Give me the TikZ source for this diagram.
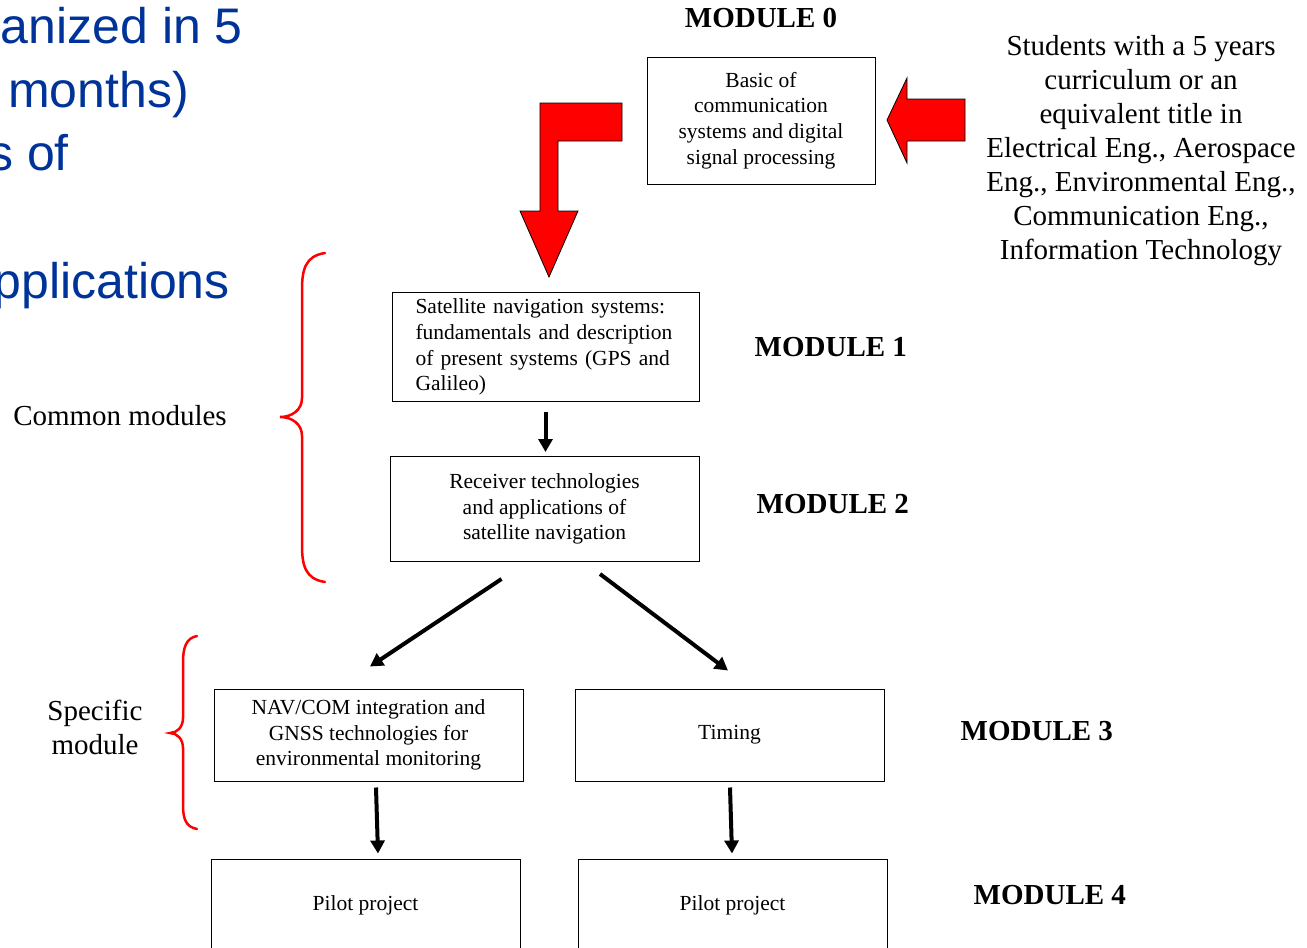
\documentclass[tikz,border=0pt]{standalone}
\usepackage{fontspec}
\setmainfont{Liberation Serif}
\newfontfamily\slidefont{Liberation Sans}
\usepackage{tikz}
\usetikzlibrary{positioning,calc,arrows.meta}
\definecolor{slideblue}{RGB}{0,51,153}

\begin{document}
\begin{tikzpicture}[x=1pt,y=-1pt,
                module/.style = {draw, line width=1pt, inner sep=0pt, align=center,
                  font=\fontsize{21.5}{25.8}\selectfont},
                modlabel/.style = {inner sep=0pt, font=\fontsize{29}{34}\selectfont\bfseries},
                note/.style = {align=center, inner sep=0pt, font=\fontsize{29}{34}\selectfont},
                headline/.style = {anchor=base east, inner sep=0pt, text=slideblue,
                  font=\slidefont\fontsize{50}{60}\selectfont},
                arr/.style = {-{Triangle[length=13pt,width=14pt]}, line width=4pt},
                bigarrow/.style = {fill=red, draw=black, line width=0.8pt, line join=miter},
                bracket/.style = {draw=red, line width=2.5pt, line cap=round}]
                \useasboundingbox (0,0) rectangle (1307,948);
                \clip (0,0) rectangle (1307,948);
                % slide title, cut at the left edge
                \node[headline] (title1) at (243,43) {anized in 5};
                \node[headline] (title2) at (189,107) {months)};
                \node[headline] (title3) at (69,170) {s of};
                \node[headline] (title4) at (230,298) {pplications};
                % module 0
                \node[module, minimum width=228pt, minimum height=127pt] (mod0) at (761,120.5) {Basic of\\communication\\systems and digital\\signal processing};
                \node[modlabel] (label0) [above = 29pt of mod0] {MODULE 0};
                \node[note] (students) at (1141,151) {Students with a 5 years\\curriculum or an\\equivalent title in\\Electrical Eng., Aerospace\\Eng., Environmental Eng.,\\Communication Eng.,\\Information Technology};
                \draw[bigarrow] (965,99) -- (907,99) -- (907,78) -- (887,120) -- (907,163) -- (907,141) -- (965,141) -- cycle;
                \draw[bigarrow] (622,103) -- (540,103) -- (540,211) -- (520,211) -- (549,277) -- (578,211) -- (558,211) -- (558,141) -- (622,141) -- cycle;
                % common modules
                \node[module, minimum width=307pt, minimum height=109pt, text width=260pt, align=left] (mod1) at (545.5,347) {Satellite navigation systems: fundamentals and description of present systems (GPS and Galileo)};
                \node[modlabel] (label1) [right = 55pt of mod1] {MODULE 1};
                \node[module, minimum width=309pt, minimum height=105pt] (mod2) [below = 54pt of mod1, xshift=-1pt] {Receiver technologies\\and applications of\\satellite navigation};
                \node[modlabel] (label2) [right = 57pt of mod2, yshift=5pt] {MODULE 2};
                \draw[arr, shorten <=10pt, shorten >=4pt] (mod1.south) -- (mod1.south |- mod2.north);
                \draw[bracket] (325,253) .. controls (305,256) and (302,270) .. (302,290) -- (302,398) .. controls (302,410) and (292,417) .. (280,417) .. controls (292,417) and (302,424) .. (302,436) -- (302,545) .. controls (302,565) and (305,579) .. (325,582);
                \node[note] (common) at (120,416) {Common modules};
                % specific modules
                \node[module, minimum width=309pt, minimum height=92pt] (mod3a) at (368.5,735) {NAV/COM integration and\\GNSS technologies for\\environmental monitoring};
                \node[module, minimum width=309pt, minimum height=92pt] (mod3b) [right = 51pt of mod3a] {Timing};
                \node[modlabel] (label3) [right = 76pt of mod3b, yshift=4pt] {MODULE 3};
                \coordinate (forkl) at ($(mod2.south)+(-43,17)$);
                \coordinate (forkr) at ($(mod2.south)+(55.5,12)$);
                \draw[arr] (forkl) -- ($(mod3a.north)+(1.5,-22)$);
                \draw[arr] (forkr) -- ($(mod3b.north)+(-1.5,-18)$);
                \draw[bracket] (197,636) .. controls (186,638) and (183,648) .. (183,662) -- (183,718) .. controls (183,727) and (177,733) .. (170,733) .. controls (177,733) and (183,739) .. (183,748) -- (183,805) .. controls (183,819) and (186,827) .. (197,829);
                \node[note] (specific) at (95,727) {Specific\\module};
                % pilot projects
                \node[module, minimum width=309pt, minimum height=92pt] (mod4a) [below = 77pt of mod3a, xshift=-3pt] {Pilot project};
                \node[module, minimum width=309pt, minimum height=92pt] (mod4b) [below = 77pt of mod3b, xshift=3pt] {Pilot project};
                \node[modlabel] (label4) [right = 86pt of mod4b, yshift=10pt] {MODULE 4};
                \draw[arr] ($(mod3a.south)+(7.5,6)$) -- ($(mod4a.north)+(12.5,-5)$);
                \draw[arr] ($(mod3b.south)+(0.5,6)$) -- ($(mod4b.north)+(-0.5,-5)$);
\end{tikzpicture}
\end{document}
